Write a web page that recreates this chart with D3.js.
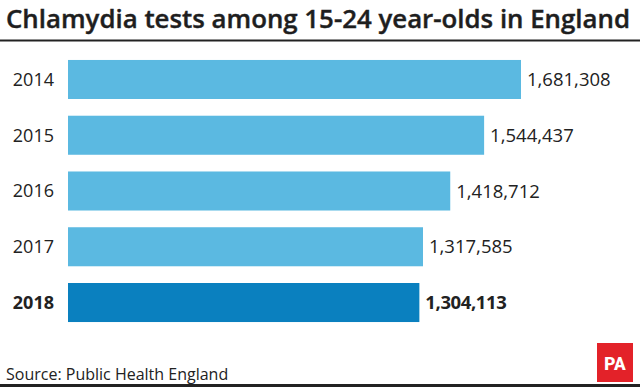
<!DOCTYPE html>
<html><head><meta charset="utf-8">
<script src="https://cdn.jsdelivr.net/npm/d3@7"></script>
<style>body{margin:0;background:#fff;}svg{display:block;font-family:"Open Sans",sans-serif;}</style>
</head><body><svg id="c" width="640" height="387"></svg>
<script>
const years = ["2014","2015","2016","2017","2018"];
const tests = [1681308,1544437,1418712,1317585,1304113];
const highlight = ["2018"];
const title = "Chlamydia tests among 15-24 year-olds in England";
const source = "Source: Public Health England";

const svg = d3.select("#c");
const W=640,H=387;
svg.append("rect").attr("width",W).attr("height",H).attr("fill","#fff");

svg.append("text").attr("x",6).attr("y",28).attr("font-size",25.5).attr("font-weight",600)
  .attr("fill","#1e1e1e").attr("stroke","#1e1e1e").attr("stroke-width",0.4)
  .attr("textLength",624).attr("lengthAdjust","spacingAndGlyphs").text(title);
svg.append("rect").attr("x",0).attr("y",39.5).attr("width",W).attr("height",2).attr("fill","#222");

const y = d3.scaleBand().domain(years).range([51.6,330.4]).paddingInner(0.3).paddingOuter(0.15);
const x = d3.scaleLinear().domain([0,1681308]).range([68,521]);
const data = years.map((yr,i)=>({yr,v:tests[i],hl:highlight.includes(yr)}));

svg.selectAll("rect.bar").data(data).enter().append("rect").attr("class","bar")
  .attr("x",x(0)).attr("y",d=>y(d.yr)).attr("width",d=>x(d.v)-x(0)).attr("height",y.bandwidth())
  .attr("fill",d=>d.hl?"#0a80bf":"#5bb9e1");

const fmt = d3.format(",");
svg.selectAll("text.yr").data(data).enter().append("text").attr("class","yr")
  .attr("x",54).attr("y",d=>y(d.yr)+y.bandwidth()/2).attr("dy","0.36em").attr("text-anchor","end")
  .attr("font-size",18).attr("font-weight",d=>d.hl?700:400).attr("fill","#222").text(d=>d.yr);
svg.selectAll("text.val").data(data).enter().append("text").attr("class","val")
  .attr("x",d=>x(d.v)+6).attr("y",d=>y(d.yr)+y.bandwidth()/2).attr("dy","0.36em")
  .attr("font-size",18.5).attr("font-weight",d=>d.hl?700:400).attr("fill","#222")
  .attr("letter-spacing",d=>d.hl?"-0.4":"0").text(d=>fmt(d.v));

svg.append("text").attr("x",6).attr("y",380).attr("font-size",16).attr("fill","#222").text(source);
svg.append("rect").attr("x",0).attr("y",384).attr("width",W).attr("height",3).attr("fill","#222");
const pa = svg.append("g");
pa.append("rect").attr("x",597).attr("y",343).attr("width",36).attr("height",39).attr("fill","#e32229");
pa.append("text").attr("x",615).attr("y",370).attr("text-anchor","middle").attr("font-size",18)
  .attr("font-weight",700).attr("fill","#fff").attr("font-family","'Liberation Sans Narrow','Roboto Condensed',sans-serif")
  .attr("textLength",22).attr("lengthAdjust","spacingAndGlyphs").text("PA");
</script></body></html>
